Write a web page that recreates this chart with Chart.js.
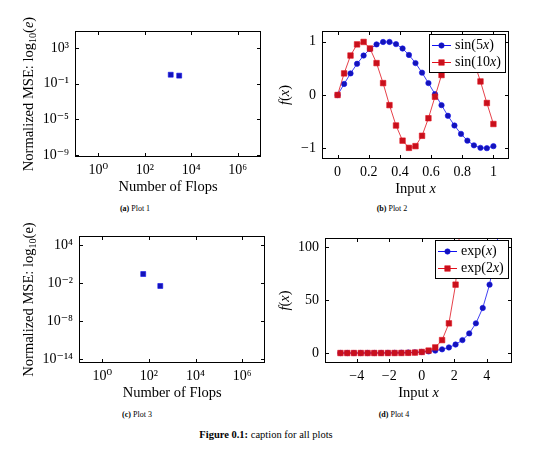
<!DOCTYPE html>
<html lang="en">
<head>
<meta charset="UTF-8">
<title>Figure 0.1: caption for all plots</title>
<script src="https://cdn.jsdelivr.net/npm/chart.js"></script>
<style>
  body { margin: 0; background: #fff; font-family: "Liberation Serif", serif; color: #000; }
  .page { position: relative; width: 540px; height: 469px; overflow: hidden; }
  .plot { position: absolute; width: 270px; }
  .sub { position: absolute; font-size: 8px; white-space: nowrap; transform: translate(-50%, -50%); opacity: 0.99; }
  .caption { position: absolute; font-size: 10.5px; white-space: nowrap; transform: translate(-50%, -50%); opacity: 0.99; }
</style>
</head>
<body>
<div class="page">
  <div class="plot" style="left:0;top:0;height:200px"><canvas id="plot1"></canvas></div>
  <div class="plot" style="left:270px;top:0;height:200px"><canvas id="plot2"></canvas></div>
  <div class="plot" style="left:0;top:215px;height:190px"><canvas id="plot3"></canvas></div>
  <div class="plot" style="left:270px;top:215px;height:190px"><canvas id="plot4"></canvas></div>

  <div class="sub" style="left:135px;top:208px"><b>(a)</b> Plot 1</div>
  <div class="sub" style="left:392px;top:208px"><b>(b)</b> Plot 2</div>
  <div class="sub" style="left:137px;top:414px"><b>(c)</b> Plot 3</div>
  <div class="sub" style="left:394px;top:414px"><b>(d)</b> Plot 4</div>
  <div class="caption" style="left:266px;top:434px"><b>Figure 0.1:</b> caption for all plots</div>
</div>

<script>
    // plot 1 / plot 3: error vs flops (log-log)
    const flops1 = [1310, 3030];
    const mse1 = [1.0, 0.79];
    const flops3 = [57, 308];
    const mse3 = [0.26, 0.0034];

    // plot 2: sine samples
    const sinX = [0, 0.042, 0.083, 0.125, 0.167, 0.208, 0.25, 0.292, 0.333, 0.375, 0.417, 0.458, 0.5,
                  0.542, 0.583, 0.625, 0.667, 0.708, 0.75, 0.792, 0.833, 0.875, 0.917, 0.958, 1];
    const sin5 = [0, 0.207, 0.405, 0.585, 0.74, 0.863, 0.949, 0.994, 0.995, 0.954, 0.872, 0.751, 0.598,
                  0.419, 0.223, 0.017, -0.19, -0.39, -0.572, -0.729, -0.856, -0.944, -0.991, -0.997, -0.959];
    const sin10 = [0, 0.405, 0.74, 0.949, 0.995, 0.872, 0.598, 0.223, -0.19, -0.572, -0.856, -0.991, -0.959,
                   -0.765, -0.436, -0.033, 0.374, 0.724, 0.938, 0.998, 0.893, 0.624, 0.254, -0.15, -0.544];

    // plot 4: exponential samples
    const expX = [-5, -4.58, -4.17, -3.75, -3.33, -2.92, -2.5, -2.08, -1.67, -1.25, -0.83, -0.42, 0,
                  0.42, 0.83, 1.25, 1.67, 2.08, 2.5, 2.92, 3.33, 3.75, 4.17, 4.58, 5];
    const exp1 = [0.007, 0.01, 0.016, 0.024, 0.036, 0.054, 0.082, 0.125, 0.189, 0.287, 0.435, 0.659, 1,
                  1.52, 2.3, 3.49, 5.29, 8.03, 12.2, 18.5, 28, 42.5, 64.5, 97.8, 148.4];
    const exp2 = [0, 0.0001, 0.0002, 0.0006, 0.0013, 0.0029, 0.0067, 0.016, 0.036, 0.082, 0.189, 0.435, 1,
                  2.3, 5.29, 12.2, 28, 64.5, 148.4];

    // tick values
    const flopTicks = [1, 1e2, 1e4, 1e6];
    const mse1Ticks = [1e-9, 1e-5, 1e-1, 1e3];
    const mse3Ticks = [1e-14, 1e-8, 1e-2, 1e4];
    const sinXTicks = [0, 0.2, 0.4, 0.6, 0.8, 1];
    const sinYTicks = [-1, 0, 1];
    const expXTicks = [-4, -2, 0, 2, 4];
    const expYTicks = [0, 50, 100];

    // text pieces: [text, style] with style '' | 'i' (italic) | 'sub'
    const flopsTitle = [['Number of Flops', '']];
    const mseTitle = [['Normalized MSE: log', ''], ['10', 'sub'], ['(', ''], ['e', 'i'], [')', '']];
    const mseTitle3 = [['Normalized MSE: log', ''], ['10', 'sub'], ['(e)', '']];
    const inputTitle = [['Input ', ''], ['x', 'i']];
    const fxTitle = [['f', 'i'], ['(', ''], ['x', 'i'], [')', '']];
    const sin5Label = [['sin(5', ''], ['x', 'i'], [')', '']];
    const sin10Label = [['sin(10', ''], ['x', 'i'], [')', '']];
    const exp1Label = [['exp(', ''], ['x', 'i'], [')', '']];
    const exp2Label = [['exp(2', ''], ['x', 'i'], [')', '']];

    const FONT = '"Liberation Serif", "DejaVu Serif", serif';
    const BLUE = '#1010f0', BLUE_FILL = '#1414b8';
    const RED = '#e0101c', RED_FILL = '#c8101c';

    const SUP = {'0':'⁰','1':'¹','2':'²','3':'³','4':'⁴','5':'⁵','6':'⁶','7':'⁷','8':'⁸','9':'⁹','-':'⁻'};
    function powLabel(v) {
        const e = Math.round(Math.log10(v));
        return '10' + String(e).split('').map(c => SUP[c]).join('');
    }
    function numLabel(v) {
        return String(v).replace('-', '\u2212');
    }

    function partFont(p, size) {
        if (p[1] === 'i') return 'italic ' + size + 'px ' + FONT;
        if (p[1] === 'sub') return (size * 0.7) + 'px ' + FONT;
        return size + 'px ' + FONT;
    }
    function richWidth(ctx, parts, size) {
        let w = 0;
        parts.forEach(p => { ctx.font = partFont(p, size); w += ctx.measureText(p[0]).width; });
        return w;
    }
    function drawRich(ctx, parts, x, y, size, align) {
        let cx = align === 'left' ? x : x - richWidth(ctx, parts, size) / 2;
        ctx.textAlign = 'left';
        ctx.textBaseline = 'middle';
        ctx.fillStyle = '#000';
        parts.forEach(p => {
            ctx.font = partFont(p, size);
            ctx.fillText(p[0], cx, p[1] === 'sub' ? y + size * 0.28 : y);
            cx += ctx.measureText(p[0]).width;
        });
    }

    function drawMarker(ctx, style, x, y, r, fill, stroke) {
        ctx.fillStyle = fill;
        ctx.strokeStyle = stroke;
        ctx.lineWidth = 0.6;
        ctx.beginPath();
        if (style === 'rect') {
            const s = r * Math.SQRT1_2;
            ctx.rect(x - s, y - s, 2 * s, 2 * s);
        } else {
            ctx.arc(x, y, r, 0, Math.PI * 2);
        }
        ctx.fill();
        ctx.stroke();
    }

    function boxOutline(ctx, x, y, w, h) {
        ctx.fillRect(x, y, w, 1);
        ctx.fillRect(x, y + h - 1, w, 1);
        ctx.fillRect(x, y, 1, h);
        ctx.fillRect(x + w - 1, y, 1, h);
    }

    function makePlot(id, cfg) {
        // axis box, inner ticks, legend and axis titles
        const framePlugin = {
            id: 'frame' + id,
            afterDraw(chart) {
                const ctx = chart.ctx, a = chart.chartArea, sx = chart.scales.x, sy = chart.scales.y;
                const L = Math.round(a.left), R = Math.round(a.right);
                const T = Math.round(a.top), B = Math.round(a.bottom);
                ctx.save();
                ctx.fillStyle = '#000';
                cfg.xTicks.forEach(v => {
                    const px = Math.round(sx.getPixelForValue(v));
                    ctx.fillRect(px, B - 4, 1, 4);
                    ctx.fillRect(px, T, 1, 4);
                });
                cfg.yTicks.forEach(v => {
                    const py = Math.round(sy.getPixelForValue(v));
                    ctx.fillRect(L, py, 4, 1);
                    ctx.fillRect(R - 4, py, 4, 1);
                });

                if (cfg.legend) {
                    const size = 14, rowH = 16.5, sampleW = 19, padL = 3, gap = 4, padR = 5;
                    let tw = 0;
                    cfg.legend.forEach(e => { tw = Math.max(tw, richWidth(ctx, e.label, size)); });
                    const w = Math.round(padL + sampleW + gap + tw + padR);
                    const h = Math.round(cfg.legend.length * rowH + 6);
                    const x = Math.round(a.right - 3 - w), y = Math.round(a.top + cfg.legendTop);
                    ctx.fillStyle = '#fff';
                    ctx.fillRect(x, y, w, h);
                    ctx.fillStyle = '#000';
                    boxOutline(ctx, x, y, w, h);
                    cfg.legend.forEach((e, i) => {
                        const cy = Math.round(y + 3 + rowH * (i + 0.5)) + 0.5;
                        ctx.fillStyle = e.line;
                        ctx.fillRect(x + padL, cy - 0.5, sampleW, 1);
                        drawMarker(ctx, e.style, x + padL + sampleW / 2, cy, e.r, e.fill, e.line);
                        drawRich(ctx, e.label, x + padL + sampleW + gap, cy, size, 'left');
                    });
                }

                ctx.fillStyle = '#000';
                boxOutline(ctx, L, T, R - L, B - T);

                drawRich(ctx, cfg.xTitle, (a.left + a.right) / 2, a.bottom + 30, 14.5);
                ctx.translate(a.left - cfg.yTitleGap, (a.top + a.bottom) / 2);
                ctx.rotate(-Math.PI / 2);
                drawRich(ctx, cfg.yTitle, 0, 0, 14.5);
                ctx.restore();
            }
        };

        const tickFont = {family: FONT, size: 14};
        return new Chart(document.getElementById(id), {
            type: cfg.type,
            data: {datasets: cfg.datasets},
            options: {
                responsive: true,
                maintainAspectRatio: false,
                animation: false,
                events: [],
                layout: {padding: {top: cfg.pad[0], right: cfg.pad[1], bottom: 0, left: 0}},
                plugins: {legend: {display: false}, tooltip: {enabled: false}},
                scales: {
                    x: {
                        type: cfg.xType,
                        min: cfg.xRange[0],
                        max: cfg.xRange[1],
                        grid: {display: false, drawTicks: false},
                        border: {display: false},
                        afterBuildTicks: s => { s.ticks = cfg.xTicks.map(v => ({value: v})); },
                        afterFit: s => { s.height = cfg.xHeight; },
                        ticks: {
                            font: tickFont, color: '#000', padding: 5, maxRotation: 0, autoSkip: false,
                            callback: cfg.xType === 'logarithmic' ? powLabel : numLabel
                        }
                    },
                    y: {
                        type: cfg.yType,
                        min: cfg.yRange[0],
                        max: cfg.yRange[1],
                        grid: {display: false, drawTicks: false},
                        border: {display: false},
                        afterBuildTicks: s => { s.ticks = cfg.yTicks.map(v => ({value: v})); },
                        afterFit: s => { s.width = cfg.yWidth; },
                        ticks: {
                            font: tickFont, color: '#000', padding: 6, autoSkip: false,
                            callback: cfg.yType === 'logarithmic' ? powLabel : numLabel
                        }
                    }
                }
            },
            plugins: [framePlugin]
        });
    }

    function pts(xs, ys) {
        return ys.map((y, i) => ({x: xs[i], y: y}));
    }

    function squares(xs, ys) {
        return {
            data: pts(xs, ys), showLine: false, pointStyle: 'rect', pointRadius: 3.5,
            backgroundColor: BLUE_FILL, borderColor: BLUE, pointBorderWidth: 0.6
        };
    }

    function curve(xs, ys, style, r, color, fill, order) {
        return {
            data: pts(xs, ys), showLine: true, tension: 0, borderWidth: 0.8, borderColor: color,
            pointStyle: style, pointRadius: r, pointBackgroundColor: fill, pointBorderColor: color,
            pointBorderWidth: 0.6, order: order
        };
    }

    makePlot('plot1', {
        type: 'scatter', xType: 'logarithmic', yType: 'logarithmic',
        datasets: [squares(flops1, mse1)],
        xRange: [0.1, 1e7], yRange: [Math.pow(10, -9.22), Math.pow(10, 4.9)],
        xTicks: flopTicks, yTicks: mse1Ticks,
        pad: [31, 9], yWidth: 75, xHeight: 43, yTitleGap: 46,
        xTitle: flopsTitle, yTitle: mseTitle
    });

    makePlot('plot2', {
        type: 'line', xType: 'linear', yType: 'linear',
        datasets: [
            curve(sinX, sin5, 'circle', 2.7, BLUE, BLUE_FILL, 1),
            curve(sinX, sin10, 'rect', 3.9, RED, RED_FILL, 0)
        ],
        xRange: [-0.1, 1.1], yRange: [-1.2, 1.2],
        xTicks: sinXTicks, yTicks: sinYTicks,
        pad: [31, 31], yWidth: 52, xHeight: 41, yTitleGap: 37,
        xTitle: inputTitle, yTitle: fxTitle,
        legendTop: 3,
        legend: [
            {label: sin5Label, style: 'circle', r: 2.7, line: BLUE, fill: BLUE_FILL},
            {label: sin10Label, style: 'rect', r: 3.9, line: RED, fill: RED_FILL}
        ]
    });

    makePlot('plot3', {
        type: 'scatter', xType: 'logarithmic', yType: 'logarithmic',
        datasets: [squares(flops3, mse3)],
        xRange: [0.1, 1e7], yRange: [Math.pow(10, -14.63), Math.pow(10, 5.42)],
        xTicks: flopTicks, yTicks: mse3Ticks,
        pad: [21, 4], yWidth: 79, xHeight: 42, yTitleGap: 50,
        xTitle: flopsTitle, yTitle: mseTitle3
    });

    makePlot('plot4', {
        type: 'line', xType: 'linear', yType: 'linear',
        datasets: [
            curve(expX, exp1, 'circle', 2.7, BLUE, BLUE_FILL, 1),
            curve(expX, exp2, 'rect', 3.9, RED, RED_FILL, 0)
        ],
        xRange: [-5.95, 5.55], yRange: [-9.4, 108.5],
        xTicks: expXTicks, yTicks: expYTicks,
        pad: [23, 28], yWidth: 55, xHeight: 42, yTitleGap: 40,
        xTitle: inputTitle, yTitle: fxTitle,
        legendTop: 2,
        legend: [
            {label: exp1Label, style: 'circle', r: 2.7, line: BLUE, fill: BLUE_FILL},
            {label: exp2Label, style: 'rect', r: 3.9, line: RED, fill: RED_FILL}
        ]
    });
</script>
</body>
</html>
